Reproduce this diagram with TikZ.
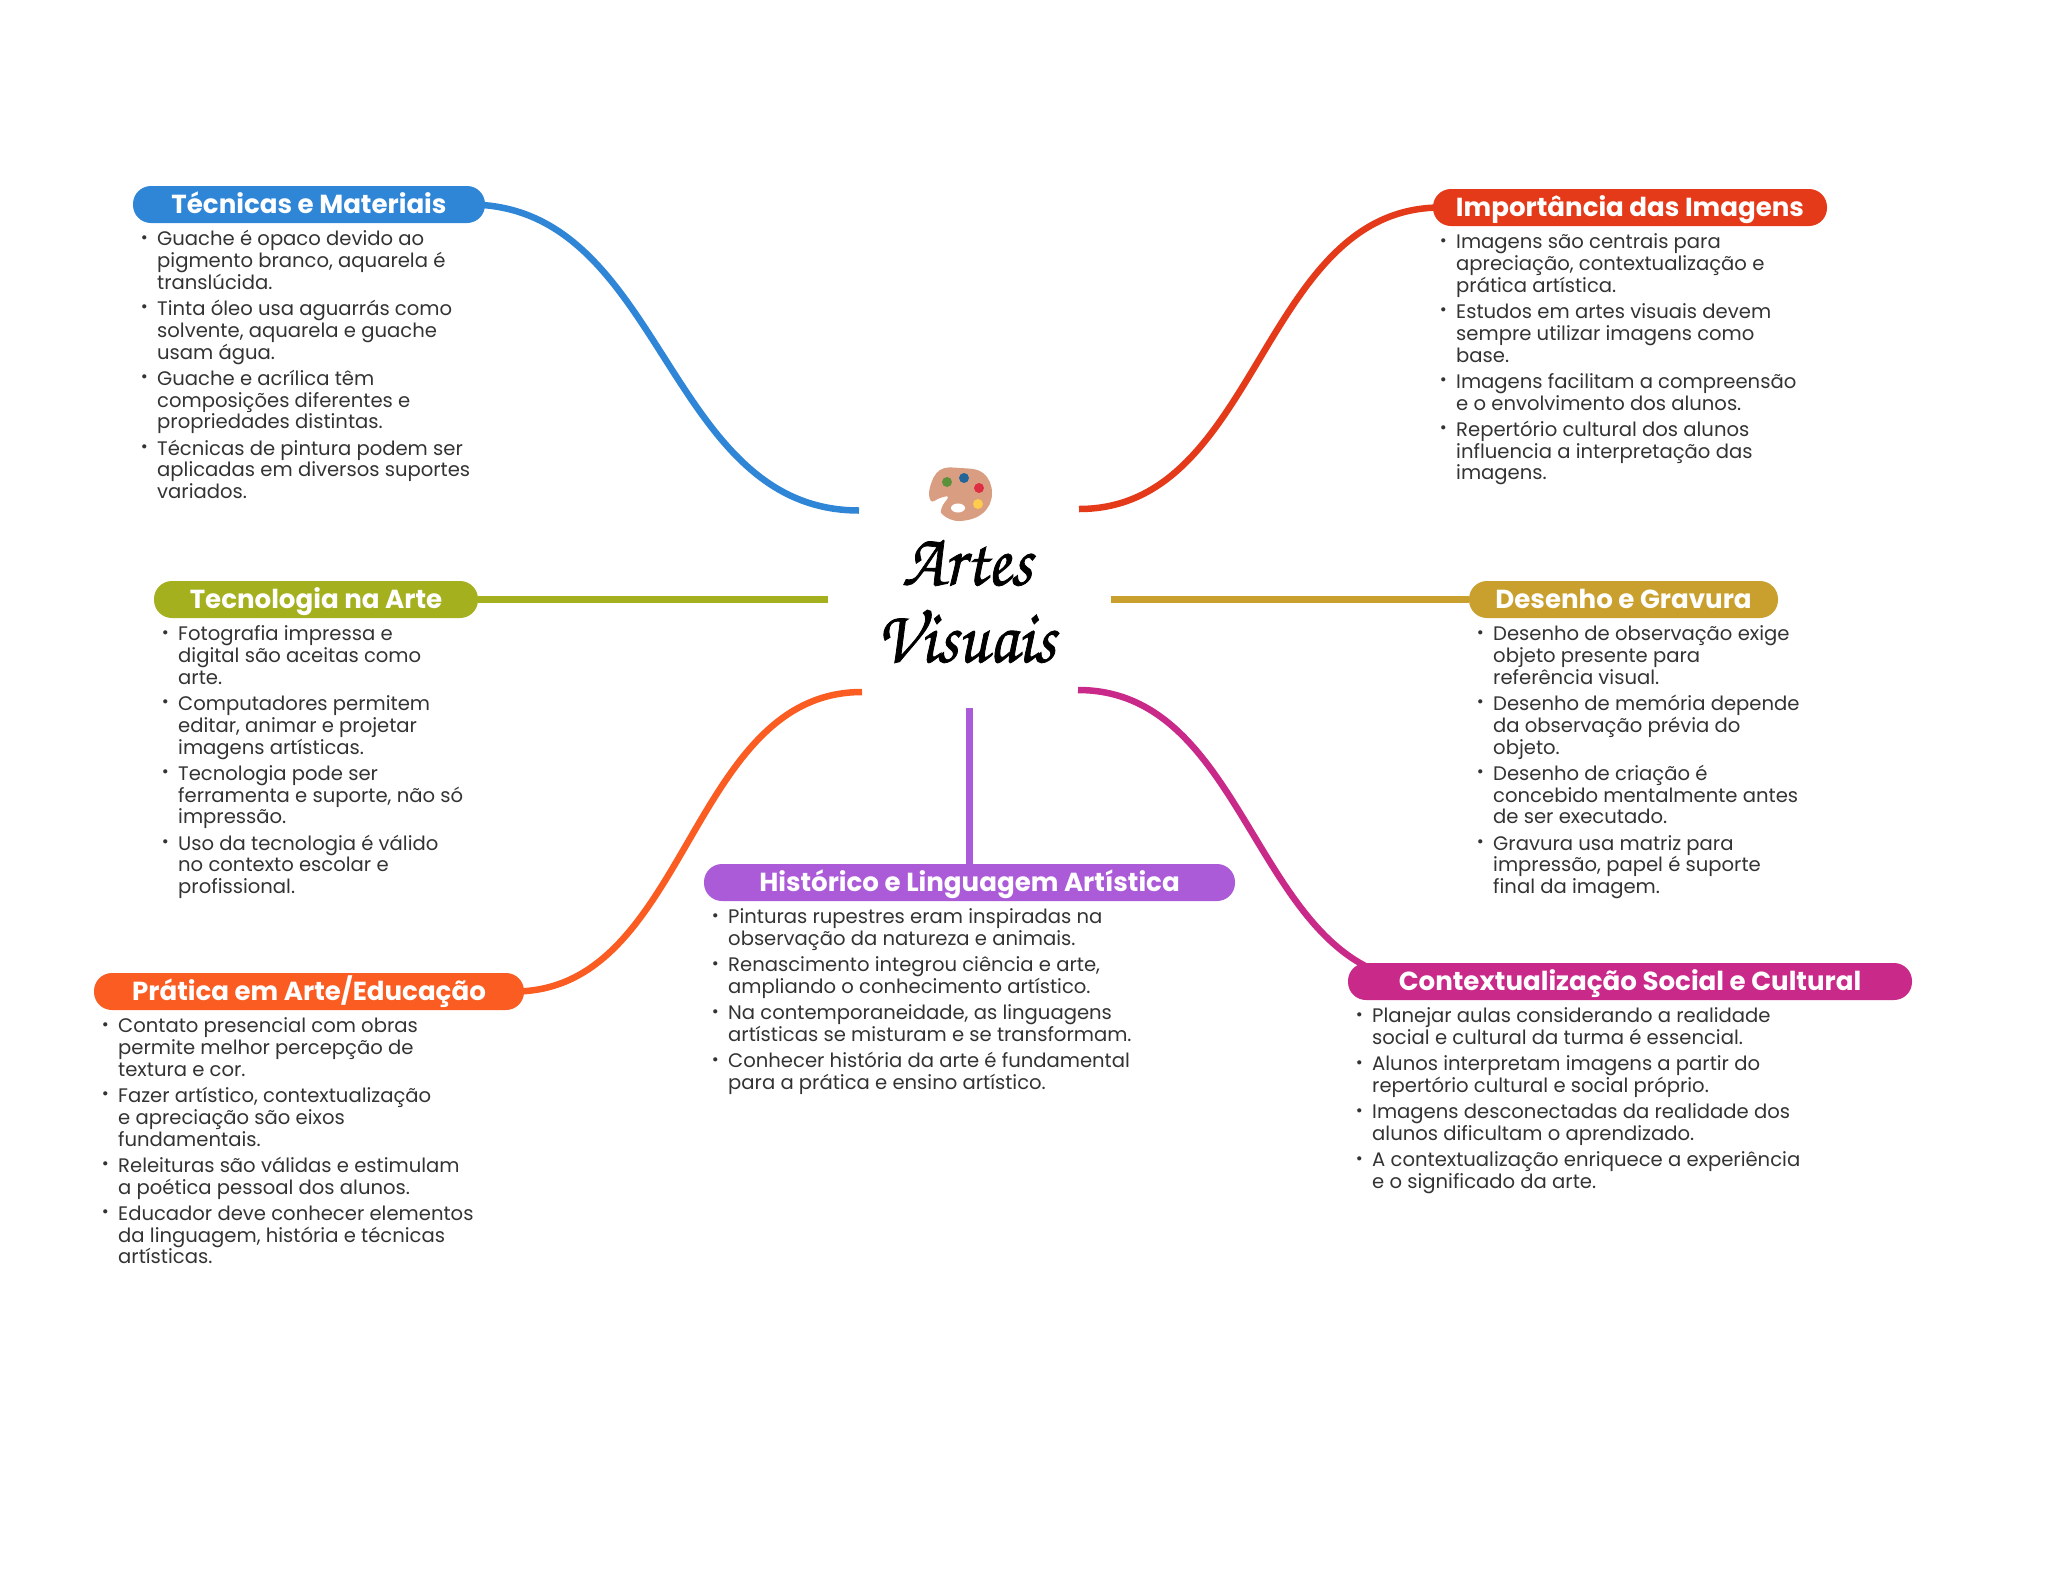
\documentclass[tikz,border=0pt]{standalone}
\usepackage{fontspec}
\usetikzlibrary{backgrounds,calc}
\setmainfont{Poppins}
\newfontfamily\headfont{Poppins}
\newfontfamily\titlefont[FakeBold=1,FakeStretch=0.89]{TeX Gyre Chorus}
\definecolor{cblue}{HTML}{3086D6}
\definecolor{cred}{HTML}{E43A19}
\definecolor{colive}{HTML}{A4B01E}
\definecolor{cgold}{HTML}{C9A02E}
\definecolor{cmag}{HTML}{C92A8A}
\definecolor{cpur}{HTML}{AC5BD8}
\definecolor{corg}{HTML}{FA5C22}
\definecolor{ctext}{HTML}{333333}
\newcommand{\bul}{\llap{\raisebox{2.6pt}{\fontsize{17}{17}\selectfont •}\hspace{9.4pt}}\rule{0pt}{16pt}}
\newcommand{\gap}{\\[4.4pt]}
\tikzset{
 pill/.style={fill=#1,rounded corners=18pt,minimum height=37pt,inner sep=0pt,text=white,text height=20pt,text depth=3pt,font=\headfont\bfseries\fontsize{26.1}{26.1}\selectfont},
 body/.style={anchor=north west,inner sep=0pt,yshift=0.6pt,align=left,text=ctext,font=\fontsize{19.6}{21.8}\selectfont},
 link/.style={draw=#1,line width=6.5pt},
 titletext/.style={inner sep=0pt,anchor=base,text=black,font=\titlefont\fontsize{76}{76}\selectfont}
}
\begin{document}
\begin{tikzpicture}[x=1pt,y=-1pt]
\useasboundingbox (0,0) rectangle (2048,1569);
% branch titles
\node[pill=cblue,minimum width=352pt] (p1) at (309,204.5) {Técnicas e Materiais};
\node[pill=cred,minimum width=394pt] (p2) at (1630,207.5) {Importância das Imagens};
\node[pill=colive,minimum width=324pt] (p3) at (316,599.5) {Tecnologia na Arte};
\node[pill=cgold,minimum width=309pt] (p4) at (1623.5,599.5) {Desenho e Gravura};
\node[pill=cpur,minimum width=531pt] (p5) at (969.5,882.5) {Histórico e Linguagem Artística};
\node[pill=corg,minimum width=430pt] (p6) at (309,991.5) {Prática em Arte/Educação};
\node[pill=cmag,minimum width=564pt] (p7) at (1630,981.5) {Contextualização Social e Cultural};
% free ends around the centre
\coordinate (c1) at (859,510.5);
\coordinate (c2) at (1079,509);
\coordinate (c3) at (828,599.5);
\coordinate (c4) at (1111,599.5);
\coordinate (c5) at (969.5,708);
\coordinate (c6) at (862,692);
\coordinate (c7) at (1078,690);
\begin{pgfonlayer}{background}
\draw[link=cblue] ($(p1.east)+(-16,0)$) .. controls +(195,0) and +(-195,0) .. (c1);
\draw[link=cred] (c2) .. controls +(181,0) and +(-181,0) .. ($(p2.west)+(8,0)$);
\draw[link=colive] (p3.east) -- (c3);
\draw[link=cgold] (c4) -- (p4.west);
\draw[link=cpur] (c5) -- (p5.north);
\draw[link=corg] (c6) .. controls +(-174,0) and +(174,0) .. ($(p6.east)+(-10,0)$);
\draw[link=cmag] (c7) .. controls +(176,0) and +(-176,0) .. ($(p7.west)+(82,0)$);
\end{pgfonlayer}
% palette
\fill[fill={rgb,255:red,217;green,158;blue,130}] plot[smooth cycle,tension=0.7] coordinates {(931,501) (930,487) (940,470) (960,468) (983,473) (992,493) (983,513) (960,521) (943,515) (942,507) (948,497) (940,498)};
\fill[fill={rgb,255:red,92;green,145;blue,59}] (947,482) circle[radius=5pt];
\fill[fill={rgb,255:red,34;green,102;blue,153}] (964,478) circle[radius=5pt];
\fill[fill={rgb,255:red,221;green,46;blue,68}] (979,488) circle[radius=5pt];
\fill[fill={rgb,255:red,255;green,204;blue,77}] (978,504) circle[radius=5pt];
\fill[white] (958,508) ellipse[x radius=7pt,y radius=4.5pt];
% title
\node[titletext] (t1) at (967,585) {Artes};
\node[titletext] (t2) at (966,662) {Visuais};
% texts
\node[body] (b1) at (157,230) {\bul Guache é opaco devido ao\\pigmento branco, aquarela é\\translúcida.\gap
\bul Tinta óleo usa aguarrás como\\solvente, aquarela e guache\\usam água.\gap
\bul Guache e acrílica têm\\composições diferentes e\\propriedades distintas.\gap
\bul Técnicas de pintura podem ser\\aplicadas em diversos suportes\\variados.};
\node[body] (b2) at (1456,233) {\bul Imagens são centrais para\\apreciação, contextualização e\\prática artística.\gap
\bul Estudos em artes visuais devem\\sempre utilizar imagens como\\base.\gap
\bul Imagens facilitam a compreensão\\e o envolvimento dos alunos.\gap
\bul Repertório cultural dos alunos\\influencia a interpretação das\\imagens.};
\node[body] (b3) at (178,625) {\bul Fotografia impressa e\\digital são aceitas como\\arte.\gap
\bul Computadores permitem\\editar, animar e projetar\\imagens artísticas.\gap
\bul Tecnologia pode ser\\ferramenta e suporte, não só\\impressão.\gap
\bul Uso da tecnologia é válido\\no contexto escolar e\\profissional.};
\node[body] (b4) at (1493,625) {\bul Desenho de observação exige\\objeto presente para\\referência visual.\gap
\bul Desenho de memória depende\\da observação prévia do\\objeto.\gap
\bul Desenho de criação é\\concebido mentalmente antes\\de ser executado.\gap
\bul Gravura usa matriz para\\impressão, papel é suporte\\final da imagem.};
\node[body] (b5) at (728,908) {\bul Pinturas rupestres eram inspiradas na\\observação da natureza e animais.\gap
\bul Renascimento integrou ciência e arte,\\ampliando o conhecimento artístico.\gap
\bul Na contemporaneidade, as linguagens\\artísticas se misturam e se transformam.\gap
\bul Conhecer história da arte é fundamental\\para a prática e ensino artístico.};
\node[body] (b6) at (118,1017) {\bul Contato presencial com obras\\permite melhor percepção de\\textura e cor.\gap
\bul Fazer artístico, contextualização\\e apreciação são eixos\\fundamentais.\gap
\bul Releituras são válidas e estimulam\\a poética pessoal dos alunos.\gap
\bul Educador deve conhecer elementos\\da linguagem, história e técnicas\\artísticas.};
\node[body] (b7) at (1372,1007) {\bul Planejar aulas considerando a realidade\\social e cultural da turma é essencial.\gap
\bul Alunos interpretam imagens a partir do\\repertório cultural e social próprio.\gap
\bul Imagens desconectadas da realidade dos\\alunos dificultam o aprendizado.\gap
\bul A contextualização enriquece a experiência\\e o significado da arte.};
\end{tikzpicture}
\end{document}
